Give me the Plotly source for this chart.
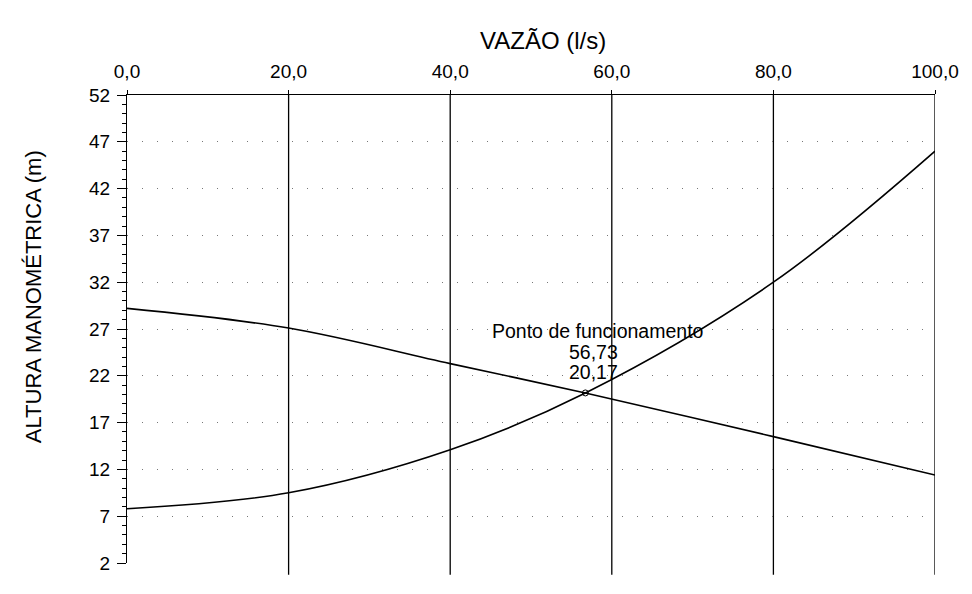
import plotly.graph_objects as go

vazao = [0, 20, 40, 56.73, 80, 100]
bomba = [29.2, 27.1, 23.3, 20.17, 15.5, 11.4]
sistema = [7.8, 9.5, 14.1, 20.17, 32.0, 46.0]

ponto_x = 56.73
ponto_y = 20.17
ponto_lines = ["Ponto de funcionamento", "56,73", "20,17"]

x_ticks = [0, 20, 40, 60, 80, 100]
x_ticklabels = ["0,0", "20,0", "40,0", "60,0", "80,0", "100,0"]
y_ticks = [2, 7, 12, 17, 22, 27, 32, 37, 42, 47, 52]

x_title = "VAZÃO (l/s)"
y_title = "ALTURA MANOMÉTRICA (m)"

font = "Liberation Sans, Arial, sans-serif"

fig = go.Figure()
fig.add_trace(go.Scatter(x=vazao, y=bomba, mode="lines",
                         line=dict(color="black", width=1.6, shape="spline", smoothing=1.0),
                         showlegend=False, hoverinfo="skip"))
fig.add_trace(go.Scatter(x=vazao, y=sistema, mode="lines",
                         line=dict(color="black", width=1.6, shape="spline", smoothing=1.0),
                         showlegend=False, hoverinfo="skip"))
fig.add_trace(go.Scatter(x=[ponto_x], y=[ponto_y], mode="markers",
                         marker=dict(symbol="circle-open", size=6, color="black", line=dict(width=1)),
                         showlegend=False, hoverinfo="skip"))

for xv in x_ticks[1:]:
    fig.add_shape(type="line", xref="x", yref="paper", x0=xv, x1=xv, y0=-0.025, y1=1,
                  line=dict(color="black", width=1.3), layer="below")

for txt, dx, dy in zip(ponto_lines, [1.5, 1.0, 1.0], [62, 41, 21]):
    fig.add_annotation(x=ponto_x + dx, y=ponto_y, text=txt, showarrow=False,
                       xanchor="center", yanchor="middle", yshift=dy,
                       font=dict(family=font, size=19.5, color="black"))

fig.add_annotation(xref="paper", yref="paper", x=0.515, y=1, yshift=55,
                   text=x_title, showarrow=False, xanchor="center", yanchor="middle",
                   font=dict(family=font, size=24, color="black"))
fig.add_annotation(xref="paper", yref="paper", x=0, y=0.568, xshift=-94,
                   text=y_title, showarrow=False, textangle=-90,
                   xanchor="center", yanchor="middle",
                   font=dict(family=font, size=22, color="black"))

fig.update_layout(
    width=972, height=594,
    margin=dict(l=119, r=45, t=87, b=39),
    plot_bgcolor="white", paper_bgcolor="white",
    font=dict(family=font, size=19, color="black"),
    xaxis=dict(side="top", range=[0, 100], tickvals=x_ticks, ticktext=x_ticklabels,
               showline=True, linecolor="black", linewidth=1.2,
               ticks="outside", ticklen=4, tickcolor="black", ticklabelstandoff=4,
               showgrid=False, zeroline=False),
    yaxis=dict(range=[2, 52], tickvals=y_ticks,
               showline=True, linecolor="black", linewidth=1.2,
               ticks="outside", ticklen=9, tickcolor="black", ticklabelstandoff=3,
               minor=dict(dtick=1, tick0=2, ticks="outside", ticklen=4, tickcolor="black", showgrid=False),
               showgrid=True, gridcolor="#777777", gridwidth=1, griddash="1px,14px",
               zeroline=False),
)

fig.write_html("out.html")
